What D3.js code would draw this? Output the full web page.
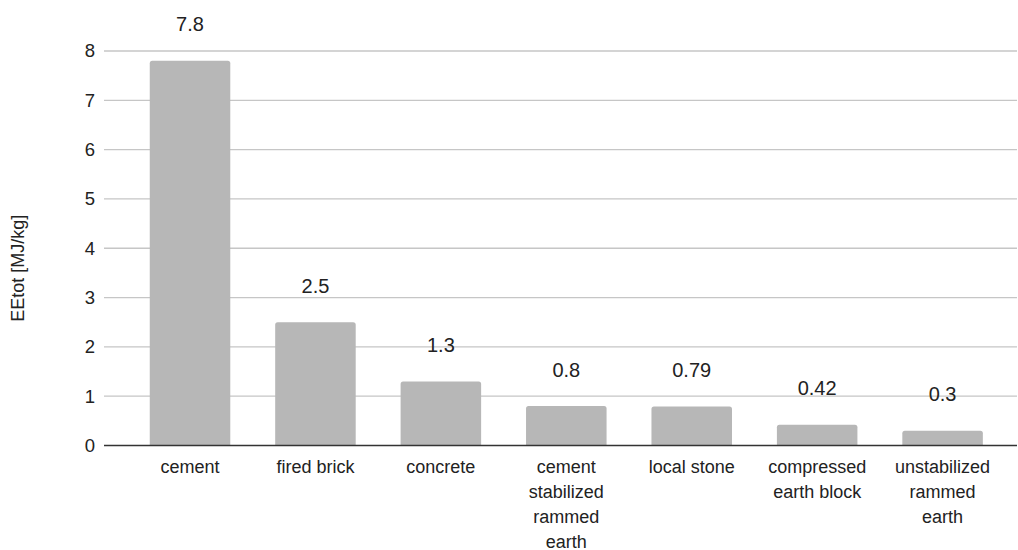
<!DOCTYPE html>
<html>
<head>
<meta charset="utf-8">
<script src="https://cdn.jsdelivr.net/npm/d3@7"></script>
<style>
  html, body { margin: 0; padding: 0; background: #fff; }
  svg { display: block; }
  text { font-family: "Liberation Sans", Arial, sans-serif; }
</style>
</head>
<body>
<svg id="chart" width="1018" height="550"></svg>
<script>
const categories = [
  "cement",
  "fired brick",
  "concrete",
  "cement\nstabilized\nrammed\nearth",
  "local stone",
  "compressed\nearth block",
  "unstabilized\nrammed\nearth"
];
const values = [7.8, 2.5, 1.3, 0.8, 0.79, 0.42, 0.3];
const valueLabels = ["7.8", "2.5", "1.3", "0.8", "0.79", "0.42", "0.3"];
const yTicks = [0, 1, 2, 3, 4, 5, 6, 7, 8];
const yTitle = "EEtot [MJ/kg]";

const svg = d3.select("#chart");
const plotLeft = 104, plotRight = 1017;
const y0 = 445.5, yTop = 51;

const x = d3.scaleBand()
  .domain(categories)
  .range([127.3, 1005.3])
  .paddingInner(0.358)
  .paddingOuter(0.179);

const y = d3.scaleLinear().domain([0, 8]).range([y0, yTop]);

// gridlines
svg.append("g").selectAll("line")
  .data(yTicks.filter(d => d !== 0))
  .join("line")
  .attr("x1", plotLeft).attr("x2", plotRight)
  .attr("y1", d => y(d)).attr("y2", d => y(d))
  .attr("stroke", "#c6c6c6").attr("stroke-width", 1.3);

// y-axis tick labels
const yAxis = d3.axisLeft(y).tickValues(yTicks).tickSize(0).tickPadding(0).tickFormat(d3.format("d"));
const yg = svg.append("g").attr("transform", `translate(95,0)`).call(yAxis);
yg.select(".domain").remove();
yg.selectAll("text")
  .attr("font-size", 18.5)
  .attr("fill", "#222")
  .attr("font-family", "Liberation Sans, Arial, sans-serif");

// bars with rounded top corners
const r = 2.5;
function barPath(d, i) {
  const bx = x(categories[i]), bw = x.bandwidth();
  const top = y(d), bot = y(0);
  return `M${bx},${bot} L${bx},${top + r} Q${bx},${top} ${bx + r},${top} L${bx + bw - r},${top} Q${bx + bw},${top} ${bx + bw},${top + r} L${bx + bw},${bot} Z`;
}
svg.append("g").selectAll("path")
  .data(values)
  .join("path")
  .attr("d", (d, i) => barPath(d, i))
  .attr("fill", "#b7b7b7");

// zero axis line
svg.append("line")
  .attr("x1", plotLeft).attr("x2", plotRight)
  .attr("y1", y(0)).attr("y2", y(0))
  .attr("stroke", "#333").attr("stroke-width", 1.5);

// value labels
svg.append("g").selectAll("text")
  .data(values)
  .join("text")
  .attr("x", (d, i) => x(categories[i]) + x.bandwidth() / 2)
  .attr("y", d => y(d) - 29.5)
  .attr("text-anchor", "middle")
  .attr("font-size", 20)
  .attr("fill", "#222")
  .text((d, i) => valueLabels[i]);

// category labels
const cg = svg.append("g");
categories.forEach(c => {
  const cx = x(c) + x.bandwidth() / 2;
  const t = cg.append("text")
    .attr("x", cx)
    .attr("y", 473)
    .attr("text-anchor", "middle")
    .attr("font-size", 18)
    .attr("fill", "#222");
  c.split("\n").forEach((line, k) => {
    t.append("tspan")
      .attr("x", cx)
      .attr("dy", k === 0 ? 0 : 25)
      .text(line);
  });
});

// y-axis title
svg.append("text")
  .attr("transform", `translate(24, ${(y0 + yTop) / 2 + 20}) rotate(-90)`)
  .attr("text-anchor", "middle")
  .attr("font-size", 18)
  .attr("fill", "#222")
  .text(yTitle);
</script>
</body>
</html>
